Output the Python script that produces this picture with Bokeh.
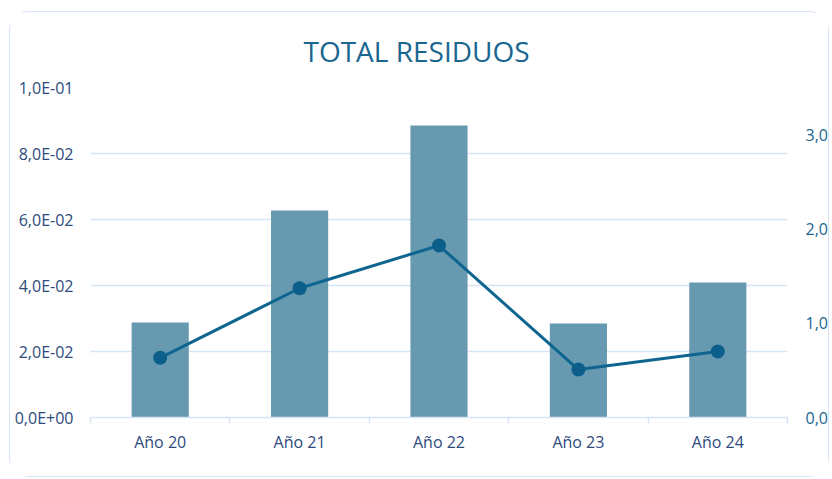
from bokeh.plotting import figure
from bokeh.models import Range1d, LinearAxis, FixedTicker, CustomJSTickFormatter, Title
from bokeh.embed import file_html
from bokeh.resources import INLINE

categories = ["Año 20", "Año 21", "Año 22", "Año 23", "Año 24"]
bar_values = [0.0288, 0.0627, 0.0885, 0.0285, 0.0409]
line_values = [0.633, 1.371, 1.824, 0.509, 0.700]
left_ticks = [0.0, 0.02, 0.04, 0.06, 0.08, 0.10]
left_tick_labels = ["0,0E+00", "2,0E-02", "4,0E-02", "6,0E-02", "8,0E-02", "1,0E-01"]
right_ticks = [0.0, 1.0, 2.0, 3.0]
right_tick_labels = ["0,0", "1,0", "2,0", "3,0"]
title_text = "TOTAL RESIDUOS"

FONT = "Open Sans"
NAVY = "#2d4a7c"
TEAL = "#1a6690"
GRID = "#d6e4f3"

xs = [i + 0.5 for i in range(len(categories))]
seps = [float(i) for i in range(len(categories) + 1)]

lookup_code = """
let best = 0; let d = 1e9;
for (let i = 0; i < tvals.length; i++) {
  const dd = Math.abs(tvals[i] - tick);
  if (dd < d) { d = dd; best = i; }
}
return d < 1e-6 ? tlabels[best] : "";
"""

p = figure(width=820, height=466,
           x_range=Range1d(0, len(categories)), y_range=Range1d(0, 0.1),
           output_backend="svg", toolbar_location=None,
           min_border_left=80, min_border_right=40, min_border_top=75, min_border_bottom=61)
p.styles = {"border": f"1px solid {GRID}", "border-radius": "20px", "margin": "11px 0 0 9px"}
p.outline_line_color = None
p.background_fill_color = "white"
p.border_fill_color = "white"

p.title = Title(text=title_text, align="left", text_font=FONT, text_font_size="28px",
                text_font_style="normal", text_color=TEAL, standoff=35, offset=213)

p.extra_y_ranges = {"r": Range1d(0, 3.5)}

p.vbar(x=xs, top=bar_values, width=0.41, color="#6799b0", line_color=None)
p.line(xs, line_values, y_range_name="r", line_width=3, color="#0e6690")
p.scatter(xs, line_values, y_range_name="r", size=14, color="#0b5f8a", line_color=None)

# x axis
xa = p.xaxis[0]
xa.ticker = FixedTicker(ticks=xs, minor_ticks=seps)
xa.formatter = CustomJSTickFormatter(args=dict(tvals=xs, tlabels=categories), code=lookup_code)
xa.axis_line_color = GRID
xa.axis_line_width = 1.5
xa.major_tick_line_color = None
xa.minor_tick_line_color = GRID
xa.minor_tick_line_width = 1.5
xa.minor_tick_out = 6
xa.minor_tick_in = 0
xa.major_label_text_font = FONT
xa.major_label_text_font_size = "16px"
xa.major_label_text_color = NAVY
xa.major_label_standoff = 7

# left axis
ya = p.yaxis[0]
ya.ticker = FixedTicker(ticks=left_ticks)
ya.formatter = CustomJSTickFormatter(args=dict(tvals=left_ticks, tlabels=left_tick_labels), code=lookup_code)
ya.axis_line_color = None
ya.major_tick_line_color = None
ya.minor_tick_line_color = None
ya.major_label_text_font = FONT
ya.major_label_text_font_size = "16px"
ya.major_label_text_color = NAVY
ya.major_label_standoff = 11

# right axis
ra = LinearAxis(y_range_name="r", ticker=FixedTicker(ticks=right_ticks),
                formatter=CustomJSTickFormatter(args=dict(tvals=right_ticks, tlabels=right_tick_labels), code=lookup_code))
ra.axis_line_color = None
ra.major_tick_line_color = None
ra.minor_tick_line_color = None
ra.major_label_text_font = FONT
ra.major_label_text_font_size = "16px"
ra.major_label_text_color = TEAL
ra.major_label_standoff = 12
p.add_layout(ra, "right")

p.xgrid.grid_line_color = None
p.ygrid.grid_line_color = GRID
p.ygrid.grid_line_width = 1.5

open("out.html", "w").write(file_html(p, INLINE))
